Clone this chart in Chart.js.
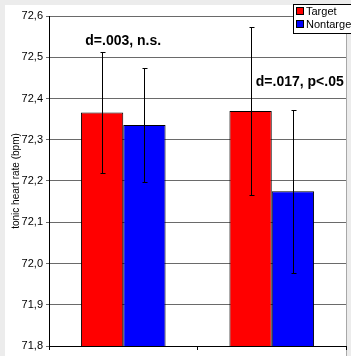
<!DOCTYPE html>
<html>
<head>
<meta charset="utf-8">
<script src="https://cdn.jsdelivr.net/npm/chart.js@4/dist/chart.umd.min.js"></script>
<style>
  html, body { margin: 0; padding: 0; background: #ececec; }
  #wrap { width: 351px; height: 356px; position: relative; }
</style>
</head>
<body>
<div id="wrap"><canvas id="c" width="351" height="356"></canvas></div>
<script>
// data
const categories = ['A', 'B'];
const seriesNames = ['Target', 'Nontarget'];
const targetVals = [72.366, 72.370];
const nontargetVals = [72.336, 72.175];
const targetErr = [0.147, 0.204];
const nontargetErr = [0.139, 0.198];
const notes = ['d=.003, n.s.', 'd=.017, p<.05'];
const noteLevels = [72.54, 72.44];
const yTicks = [71.8, 71.9, 72.0, 72.1, 72.2, 72.3, 72.4, 72.5, 72.6];

const frame = {
  id: 'frame',
  beforeDraw(chart) {
    const ctx = chart.ctx;
    ctx.save();
    ctx.fillStyle = '#ececec';
    ctx.fillRect(0, 0, chart.width, chart.height);
    ctx.fillStyle = '#fff';
    ctx.fillRect(5, 5, 341, chart.height - 5);
    ctx.fillStyle = '#a8a8a8';
    ctx.fillRect(346, 5, 1, chart.height - 5);
    ctx.restore();
  }
};

const errBars = {
  id: 'errBars',
  afterDatasetsDraw(chart) {
    const ctx = chart.ctx;
    const y = chart.scales.y;
    const errs = [targetErr, nontargetErr];
    ctx.save();
    ctx.strokeStyle = '#000';
    ctx.lineWidth = 1;
    chart.data.datasets.forEach((ds, i) => {
      chart.getDatasetMeta(i).data.forEach((bar, j) => {
        const x = Math.round(bar.x) + 0.5;
        const top = Math.round(y.getPixelForValue(ds.data[j] + errs[i][j])) + 0.5;
        const bot = Math.round(y.getPixelForValue(ds.data[j] - errs[i][j])) + 0.5;
        ctx.beginPath();
        ctx.moveTo(x, top); ctx.lineTo(x, bot);
        ctx.moveTo(x - 2, top); ctx.lineTo(x + 3, top);
        ctx.moveTo(x - 2, bot); ctx.lineTo(x + 3, bot);
        ctx.stroke();
      });
    });
    ctx.restore();
  }
};

const extras = {
  id: 'extras',
  afterDraw(chart) {
    const ctx = chart.ctx;
    const xs = chart.scales.x, ys = chart.scales.y;
    ctx.save();
    ctx.fillStyle = '#000';
    ctx.font = 'bold 14px Arial, "Liberation Sans", sans-serif';
    ctx.textAlign = 'center';
    ctx.textBaseline = 'middle';
    ctx.fillText(notes[0], xs.getPixelForValue(0), ys.getPixelForValue(noteLevels[0]));
    ctx.fillText(notes[1], xs.getPixelForValue(1) + 28, ys.getPixelForValue(noteLevels[1]));

    // legend box
    ctx.fillStyle = '#fff';
    ctx.fillRect(293, 4, 70, 29);
    ctx.strokeStyle = '#000';
    ctx.lineWidth = 1;
    ctx.strokeRect(293.5, 4.5, 70, 29);
    const cols = ['#ff0000', '#0000ff'];
    ctx.font = '11px Arial, "Liberation Sans", sans-serif';
    ctx.textAlign = 'left';
    seriesNames.forEach((n, i) => {
      const cy = 11 + i * 13;
      ctx.fillStyle = cols[i];
      ctx.fillRect(297, cy - 3, 7, 7);
      ctx.strokeRect(296.5, cy - 3.5, 7, 7);
      ctx.fillStyle = '#000';
      ctx.fillText(n, 306, cy + 1);
    });
    ctx.restore();
  }
};

new Chart(document.getElementById('c'), {
  type: 'bar',
  data: {
    labels: categories,
    datasets: [
      { label: seriesNames[0], data: targetVals, backgroundColor: '#ff0000', borderColor: '#000', borderWidth: 1 },
      { label: seriesNames[1], data: nontargetVals, backgroundColor: '#0000ff', borderColor: '#000', borderWidth: 1 }
    ]
  },
  options: {
    responsive: false,
    animation: false,
    layout: { padding: { left: 0, right: 5, top: 16, bottom: 0 } },
    datasets: { bar: { categoryPercentage: 0.57, barPercentage: 1 } },
    plugins: { legend: { display: false }, tooltip: { enabled: false } },
    scales: {
      x: {
        grid: { offset: true, drawOnChartArea: false, color: '#000', tickLength: 4 },
        border: { color: '#000' },
        ticks: { display: false },
        afterFit(s) { s.height = 10; }
      },
      y: {
        min: 71.8, max: 72.6,
        afterBuildTicks(s) { s.ticks = yTicks.map(v => ({ value: v })); },
        ticks: {
          color: '#000',
          font: { family: 'Arial, "Liberation Sans", sans-serif', size: 11 },
          padding: 3,
          callback: v => v.toFixed(1).replace('.', ',')
        },
        grid: { color: '#6a6a6a', tickLength: 3 },
        border: { color: '#000' },
        title: {
          display: true,
          text: 'tonic heart rate (bpm)',
          color: '#000',
          font: { family: 'Arial, "Liberation Sans", sans-serif', size: 10 },
          padding: { top: 10, bottom: 0 }
        },
        afterFit(s) { s.width = 49; }
      }
    }
  },
  plugins: [frame, errBars, extras]
});
</script>
</body>
</html>
